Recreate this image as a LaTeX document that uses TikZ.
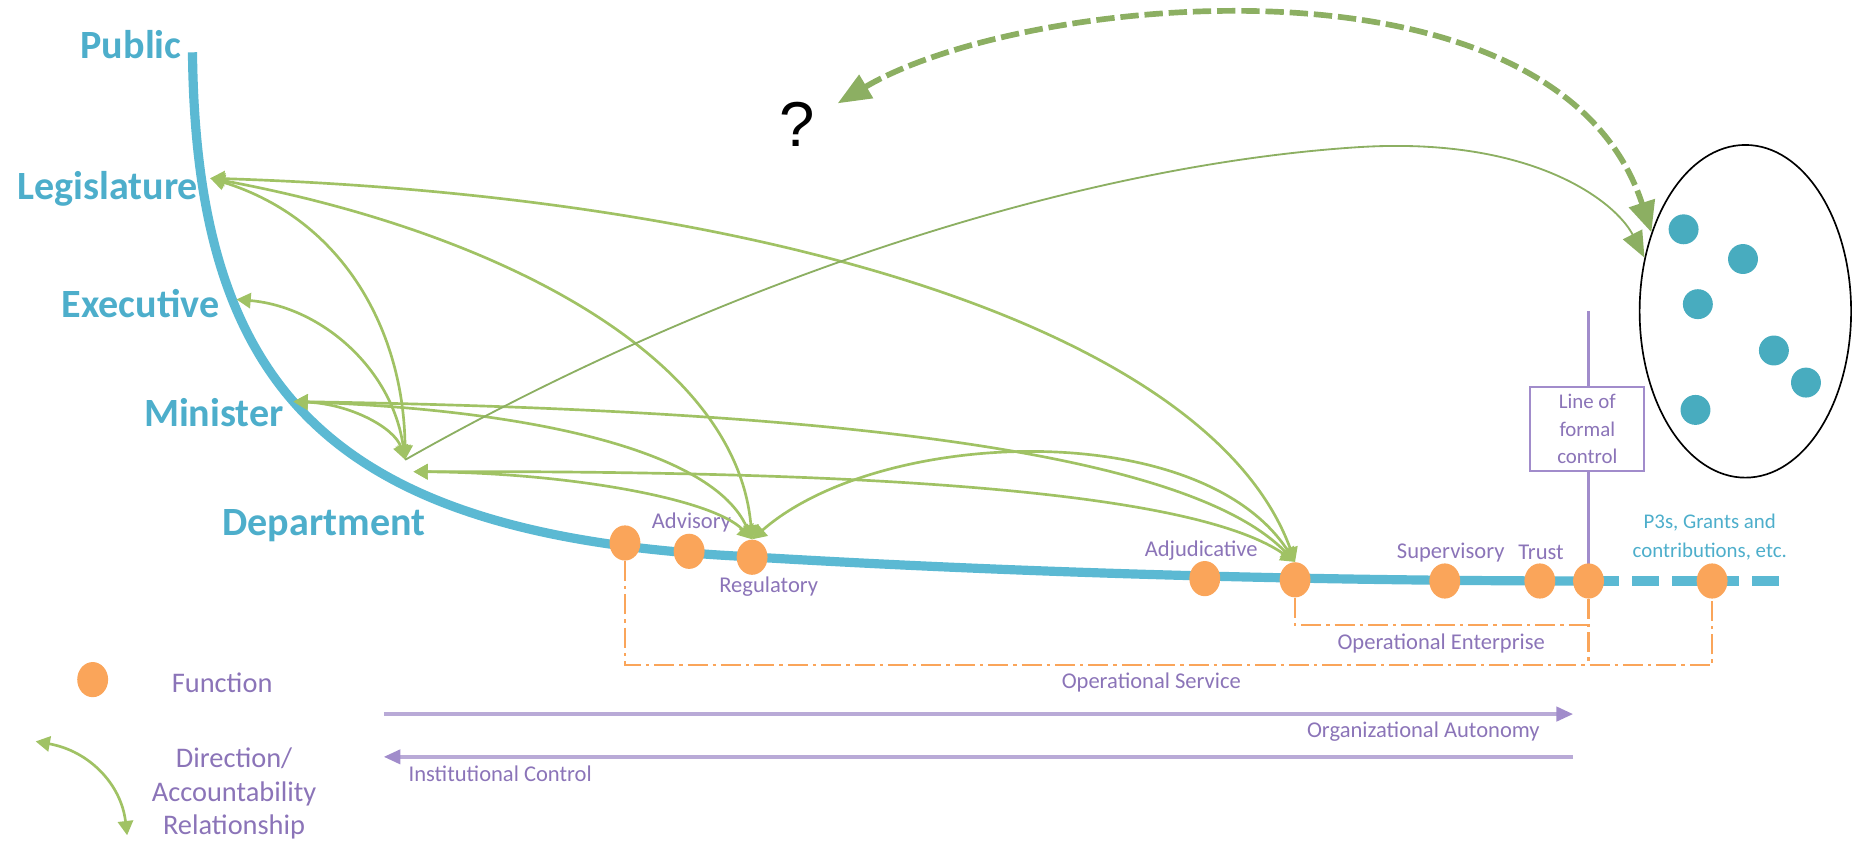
\documentclass[tikz,border=0pt]{standalone}
\usepackage{fontspec}
\setmainfont{Carlito}
\newfontfamily\qfont{Liberation Sans}
\usetikzlibrary{arrows.meta,shapes.geometric}
\definecolor{tierblue}{HTML}{4DAECB}
\definecolor{spineblue}{HTML}{5BB9D3}
\definecolor{funcorange}{HTML}{FAA55A}
\definecolor{linkgreen}{HTML}{A0C264}
\definecolor{darkgreen}{HTML}{8CAF62}
\definecolor{txtpurple}{HTML}{8B74B8}
\definecolor{linepurple}{HTML}{B9AAD7}
\definecolor{boxpurple}{HTML}{A18CCB}
\definecolor{crowdteal}{HTML}{48ACBF}

\begin{document}
\begin{tikzpicture}[x=0.25mm,y=-0.25mm,>={Triangle[length=3mm,width=3.2mm]},
  tier/.style={text=tierblue,font=\fontsize{24}{26}\selectfont\bfseries,inner sep=0pt},
  lbl/.style={text=txtpurple,font=\fontsize{13.5}{15}\selectfont,inner sep=0pt},
  func/.style={ellipse,fill=funcorange,minimum width=6.5mm,minimum height=7.4mm,inner sep=0pt},
  link/.style={linkgreen,line width=1.6pt,<->},
  opline/.style={funcorange,line width=1.3pt,dash pattern=on 12pt off 3pt on 2pt off 3pt},
  ctrl/.style={linepurple,line width=2pt},
  member/.style={circle,fill=crowdteal,minimum size=6.3mm,inner sep=0pt}]
  \useasboundingbox (0,0) rectangle (1568,708);

  % the spine from public down to the department
  \coordinate (pubEnd) at (162,44);
  \coordinate (spineMid) at (620,468);
  \coordinate (spineEnd) at (1340,489);
  \coordinate (dashEnd) at (1503,489);
  \draw[spineblue,line width=5.5pt] (pubEnd) .. controls (165,330) and (280,450) .. (spineMid)
    .. controls (850,482) and (1100,489) .. (spineEnd);
  \draw[spineblue,line width=5.5pt,dash pattern=on 16pt off 8pt] (spineEnd) -- (dashEnd);

  \node[tier,anchor=base east] (pub) at (153,49) {Public};
  \node[tier,anchor=base east] (leg) at (167,168) {Legislature};
  \node[tier,anchor=base east] (exe) at (185,267) {Executive};
  \node[tier,anchor=base east] (min) at (239,359) {Minister};
  \node[tier,anchor=base west] (dep) at (187,451) {Department};

  % line of formal control
  \coordinate (lfcTop) at (1337,262);
  \draw[boxpurple,line width=2pt] (lfcTop) -- (1337,489);
  \node[draw=boxpurple,line width=1.2pt,fill=white,minimum width=24mm,minimum height=17.8mm,
    align=center,text=txtpurple,font=\fontsize{12.5}{16.5}\selectfont] (lfc) at (1336,361)
    {Line of\\formal\\control};

  % operational groupings
  \node[func] (fSvc) at (526,457) {};
  \node[func] (fAdv) at (580,464) {};
  \node[func] (fReg) at (633,469) {};
  \node[func] (fAdj) at (1014,487) {};
  \node[func] (fEnt) at (1090,488) {};
  \node[func] (fSup) at (1216,489) {};
  \node[func] (fTru) at (1296,489) {};
  \node[func] (fLine) at (1337,489) {};
  \node[func] (fP3) at (1441,489) {};
  \draw[opline] (fSvc.south) -- (fSvc.south |- 0,560) -- (fP3.south |- 0,560) -- (fP3.south);
  \draw[opline] (fEnt.south) -- (fEnt.south |- 0,526) -- (fLine.south |- 0,526);
  \draw[opline] (fLine.south) -- (fLine.south |- 0,560);

  \node[lbl] (tAdv) at (582,440) {Advisory};
  \node[lbl] (tReg) at (647,494) {Regulatory};
  \node[lbl] (tAdj) at (1011,463) {Adjudicative};
  \node[lbl] (tSup) at (1221,465) {Supervisory};
  \node[lbl] (tTru) at (1297,465) {Trust};
  \node[text=tierblue,font=\fontsize{12.5}{17.7}\selectfont,align=center,inner sep=0pt] (tP3) at (1439,452)
    {P3s, Grants and\\contributions, etc.};
  \node[lbl] (tEnt) at (1213,542) {Operational Enterprise};
  \node[lbl] (tSvc) at (969,574) {Operational Service};

  % direction / accountability links
  \coordinate (legP) at (177,150);
  \coordinate (exeP) at (199,252);
  \coordinate (minP) at (247,338);
  \coordinate (depA) at (341,387);
  \coordinate (depB) at (348,397);
  \draw[link] (legP) .. controls (650,165) and (1020,280) .. (fEnt.north);
  \draw[link] (legP) .. controls (420,195) and (620,300) .. (fReg.north);
  \draw[link] (legP) .. controls (290,185) and (340,280) .. (depA);
  \draw[link] (exeP) .. controls (270,258) and (330,310) .. (depA);
  \draw[link] (minP) .. controls (295,340) and (332,360) .. (depA);
  \draw[link] (minP) .. controls (700,345) and (1000,380) .. (fEnt.north);
  \draw[link] (minP) .. controls (450,345) and (600,380) .. (fReg.north);
  \draw[link] (depB) .. controls (700,396) and (1000,410) .. (fEnt.north);
  \draw[link] (depB) .. controls (480,398) and (600,420) .. (fReg.north);
  \draw[link] (fReg.north) .. controls (740,360) and (1010,350) .. (fEnt.north);

  % the outside crowd
  \node[draw=black,line width=1pt,ellipse,minimum width=44.5mm,minimum height=70mm,inner sep=0pt] (crowd) at (1469,262) {};
  \foreach \mx/\my [count=\k] in {1417/193,1467/218,1429/256,1493/295,1520/322,1427/345}
    \node[member] (mem\k) at (\mx,\my) {};
  \draw[darkgreen,line width=1.1pt,-{Triangle[length=5.5mm,width=4.5mm]}]
    (depA) .. controls (600,240) and (900,140) .. (1141,124) .. controls (1290,114) and (1360,170) .. (crowd.152);
  \node[font=\qfont\fontsize{38}{40}\selectfont,inner sep=0pt] (query) at (671,105) {?};
  \coordinate (qTip) at (705,87);
  \draw[darkgreen,line width=3.4pt,dash pattern=on 11pt off 3.5pt,
    {Triangle[length=7mm,width=5.5mm]}-{Triangle[length=6.5mm,width=5.5mm]}]
    (qTip) .. controls (860,-5) and (1310,-50) .. (crowd.140);

  % autonomy and control
  \coordinate (autL) at (323,601);
  \coordinate (autR) at (1324,601);
  \coordinate (ctlR) at (1324,637);
  \coordinate (ctlL) at (323,637);
  \draw[ctrl,-{Triangle[length=3.5mm,width=3mm,color=boxpurple]}] (autL) -- (autR);
  \draw[ctrl,-{Triangle[length=3.5mm,width=3mm,color=boxpurple]}] (ctlR) -- (ctlL);
  \node[lbl] (tAut) at (1198,616) {Organizational Autonomy};
  \node[lbl] (tCtl) at (421,651) {Institutional Control};

  % legend
  \node[func] (keyDot) at (78,572) {};
  \node[lbl,font=\fontsize{17}{20}\selectfont] (keyFun) at (187,575) {Function};
  \coordinate (keyA) at (30,624);
  \coordinate (keyB) at (107,703);
  \draw[link] (keyA) .. controls (75,632) and (102,660) .. (keyB);
  \node[lbl,font=\fontsize{17}{20.2}\selectfont,align=center] (keyDir) at (197,668)
    {Direction/\\Accountability\\Relationship};
\end{tikzpicture}
\end{document}
